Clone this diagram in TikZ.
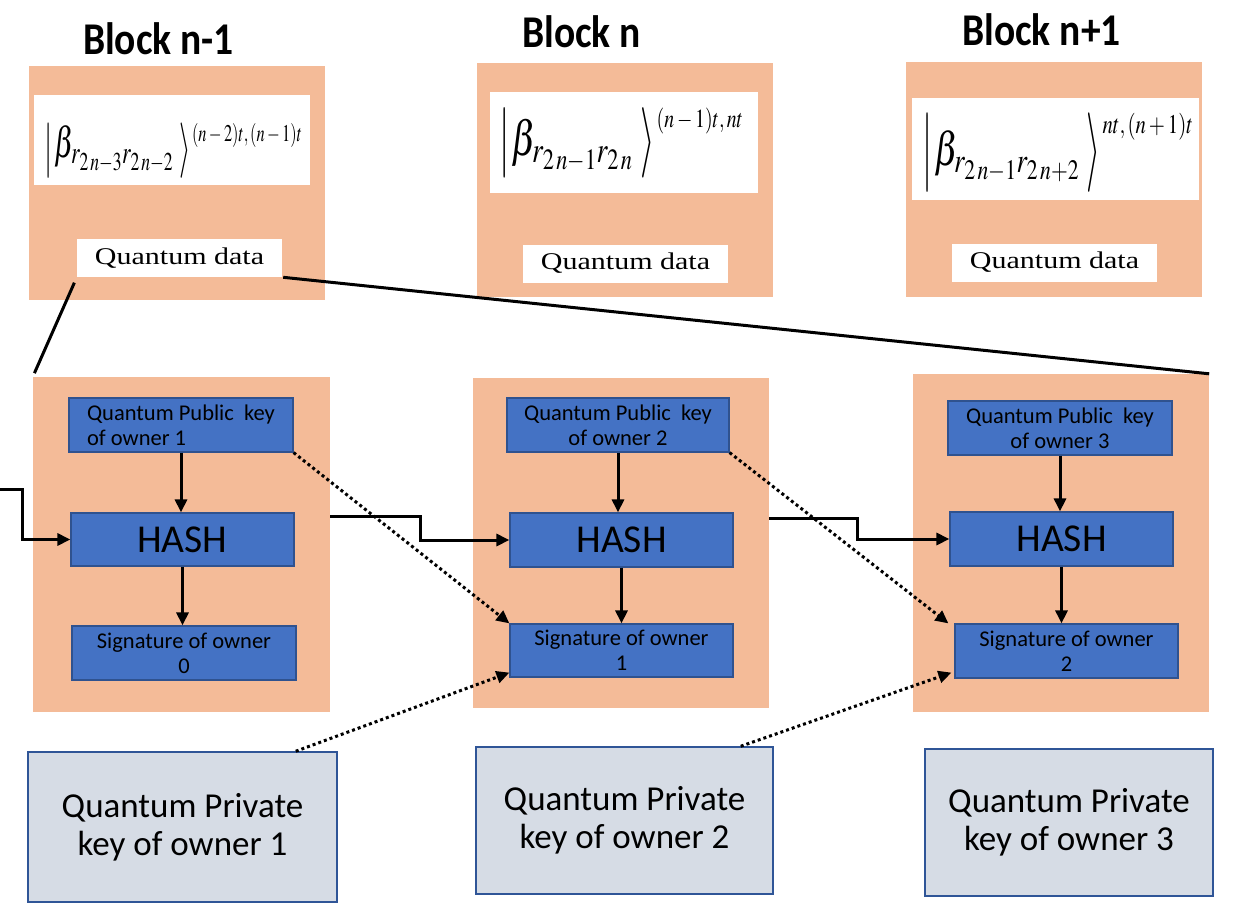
\documentclass[tikz,border=0pt]{standalone}
\usepackage{mathptmx}
\usepackage[no-math]{fontspec}
\setmainfont{Carlito}
\newfontfamily\tnr{Liberation Serif}
\usepackage{graphicx}
\usetikzlibrary{arrows.meta}
\definecolor{orng}{HTML}{F4BB98}
\definecolor{blu}{HTML}{4472C4}
\definecolor{bluedge}{HTML}{2F528F}
\definecolor{gryfill}{HTML}{D6DCE5}
\definecolor{gryedge}{HTML}{2F5597}
% #1 glyph, #2 total height, #3 depth below baseline
\newcommand{\tallglyph}[3]{\raisebox{-#3}{\resizebox*{\width}{#2}{\raisebox{\depth}{$#1$}}}}
% #1 main size, #2 subscript of beta, #3 superscript size, #4 superscript, #5 delimiter height, #6 delimiter depth
\newcommand{\ketformula}[6]{{\fontsize{#1}{#1}\selectfont
  \tallglyph{|}{#5}{#6}\kern0.06em$\beta_{#2}$\kern0.2em\tallglyph{\rangle}{#5}{#6}\kern0.05em%
  \raisebox{\dimexpr#5-#6-\height\relax}{\fontsize{#3}{#3}\selectfont$#4$}}}
\begin{document}
\begin{tikzpicture}[x=1pt,y=-1pt,
  orbox/.style={fill=orng, draw=none, inner sep=0pt},
  whbox/.style={fill=white, draw=none, inner sep=0pt},
  qdata/.style={whbox, minimum width=205pt, minimum height=38pt, font=\tnr\fontsize{24}{28}\selectfont},
  bbox/.style={fill=blu, draw=bluedge, line width=1.2pt, inner sep=0pt, minimum width=223pt, minimum height=54pt, font=\fontsize{22.5}{25}\selectfont, align=center},
  hashbox/.style={bbox, font=\fontsize{39.5}{44}\selectfont},
  privbox/.style={fill=gryfill, draw=gryedge, line width=1.5pt, inner sep=0pt, font=\fontsize{35}{38}\selectfont, align=center},
  arr/.style={line width=3pt, -{Triangle[length=13pt,width=12pt]}},
  dotarr/.style={line width=3pt, dash pattern=on 3pt off 3pt, -{Triangle[length=13pt,width=12pt]}},
  ttl/.style={font=\fontsize{39.5}{44}\selectfont\bfseries, anchor=base, inner sep=0pt},
  lnk/.style={line width=3pt},
  fml/.style={inner sep=0pt}
]
\useasboundingbox (0,0) rectangle (1258,923);

% titles
\node[ttl] (ttl1) at (158.5,55) {\scalebox{1}[1.15]{Block n-1}};
\node[ttl] (ttl2) at (581.5,48) {\scalebox{1}[1.15]{Block n}};
\node[ttl] (ttl3) at (1041.5,46) {\scalebox{1}[1.15]{Block n+1}};

% top blocks
\node[orbox, minimum width=296pt, minimum height=234pt] (T1) at (177,183) {};
\node[orbox, minimum width=296pt, minimum height=234pt] (T2) at (625,180) {};
\node[orbox, minimum width=296pt, minimum height=235pt] (T3) at (1054,179.5) {};

\node[whbox, minimum width=276pt, minimum height=90pt] (F1) at (172,140) {};
\node[whbox, minimum width=268pt, minimum height=101pt] (F2) at (624,142.5) {};
\node[whbox, minimum width=287pt, minimum height=102pt] (F3) at (1055,149) {};

\node[fml] (f1) at (173.5,151) {\resizebox{257pt}{\height}{\ketformula{43}{r_{2\,n-3}r_{2\,n-2}}{24}{(n-2)t,(n-1)t}{55pt}{21pt}}};
\node[fml] (f2) at (621,143) {\resizebox{244pt}{\height}{\ketformula{49}{r_{2\,n-1}r_{2\,n}}{26}{(n-1)t,nt}{70pt}{23pt}}};
\node[fml] (f3) at (1057.5,153) {\resizebox{271pt}{\height}{\ketformula{47}{r_{2\,n-1}r_{2\,n+2}}{27}{nt,(n+1)t}{79pt}{27pt}}};

\node[qdata] (Q1) at (179.5,258) {\scalebox{1.25}[1]{Quantum data}};
\node[qdata] (Q2) at (625.5,263.5) {\scalebox{1.25}[1]{Quantum data}};
\node[qdata] (Q3) at (1054.5,262.5) {\scalebox{1.25}[1]{Quantum data}};

% lower blocks
\node[orbox, minimum width=297pt, minimum height=335pt] (L1) at (181.5,544.5) {};
\node[orbox, minimum width=296pt, minimum height=330pt] (L2) at (621,543) {};
\node[orbox, minimum width=296pt, minimum height=338pt] (L3) at (1061,543) {};

\node[bbox, align=left, minimum width=224pt] (PK1) at (181,425) {Quantum Public\ \ key\\of owner 1};
\node[bbox, minimum width=222pt] (PK2) at (618,425) {Quantum Public\ \ key\\of owner 2};
\node[bbox, minimum width=224pt] (PK3) at (1060,428) {Quantum Public\ \ key\\of owner 3};

\node[hashbox, minimum height=53pt] (H1) at (182.5,539.5) {HASH};
\node[hashbox] (H2) at (621.5,540) {HASH};
\node[hashbox] (H3) at (1061.5,539) {HASH};

\node[bbox, minimum width=224pt] (S1) at (184,653) {Signature of owner\\0};
\node[bbox, minimum height=53pt] (S2) at (621.5,650.5) {Signature of owner\\1};
\node[bbox] (S3) at (1066.5,651) {Signature of owner\\2};

% private keys
\node[privbox, minimum width=309pt, minimum height=150pt] (P1) at (182.5,827) {Quantum Private\\key of owner 1};
\node[privbox, minimum width=297pt, minimum height=147pt] (P2) at (624.5,820.5) {Quantum Private\\key of owner 2};
\node[privbox, minimum width=288pt, minimum height=147pt] (P3) at (1069,822.5) {Quantum Private\\key of owner 3};

% links from quantum data
\draw[lnk, shorten <=6pt, shorten >=4pt] (Q1.south west) -- (L1.north west);
\draw[lnk, shorten <=1pt] (Q1.south east) -- (L3.north east);

% vertical arrows
\draw[arr] (PK1.south) -- (PK1.south |- H1.north);
\draw[arr] (PK2.south) -- (PK2.south |- H2.north);
\draw[arr] (PK3.south) -- (PK3.south |- H3.north);
\draw[arr] (H1.south) -- (H1.south |- S1.north);
\draw[arr] (H2.south) -- (H2.south |- S2.north);
\draw[arr] (H3.south) -- (H3.south |- S3.north);

% chain arrows
\coordinate (in) at (0,489);
\draw[arr] (in) -- ++(22,0) |- (H1.west);
\draw[arr] ([yshift=28pt]L1.east) -- ++(90,0) |- (H2.west);
\draw[arr] ([yshift=25pt]L2.east) -- ++(88,0) |- (H3.west);

% dotted arrows
\draw[dotarr] (PK1.south east) -- (S2.north west);
\draw[dotarr] (PK2.south east) -- ([xshift=-6pt]S3.north west);
\draw[dotarr] ([xshift=-42pt]P1.north east) -- ([yshift=5pt]S2.south west);
\draw[dotarr] ([xshift=-33pt]P2.north east) -- ([yshift=6pt,xshift=-3pt]S3.south west);
\end{tikzpicture}
\end{document}
